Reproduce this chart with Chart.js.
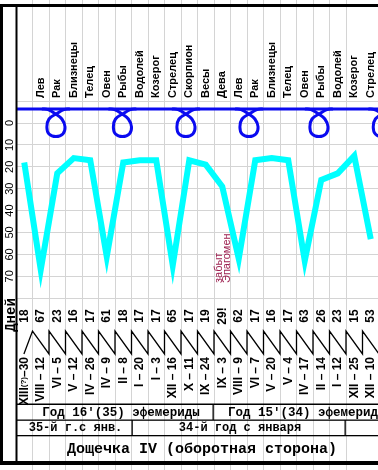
<!DOCTYPE html>
<html><head><meta charset="utf-8">
<script src="https://cdn.jsdelivr.net/npm/chart.js@4.4.0/dist/chart.umd.min.js"></script>
<style>
html,body{margin:0;padding:0;background:#fff;}
#wrap{width:378px;height:470px;position:relative;overflow:hidden;}
</style></head><body>
<div id="wrap"><canvas id="c" width="378" height="470"></canvas></div>
<script>
// ---- data ----
const signs = ["", "Лев","Рак","Близнецы","Телец","Овен","Рыбы","Водолей","Козерог","Стрелец","Скорпион","Весы","Дева","Лев","Рак","Близнецы","Телец","Овен","Рыбы","Водолей","Козерог","Стрелец"];
const days = [18,67,23,16,17,61,18,17,17,65,17,19,29,62,17,16,17,63,26,23,15,53];
const dayLabels = ["18","67","23","16","17","61","18","17","17","65","17","19","29!","62","17","16","17","63","26","23","15","53"];
const dates = ["XIII(?)–30","VIII – 12","VI – 5","V – 12","IV – 26","IV – 9","II – 8","I – 20","I – 3","XII – 16","X – 11","IX – 24","IX – 3","VIII – 9","VI – 7","V – 20","V – 4","IV – 17","II – 14","I – 12","XII – 25","XII – 10"];
const yTicks = [0,10,20,30,40,50,60,70];
// retrograde loops of the blue line (column units / day units)
const loopCenters = [2.42, 6.45, 10.3, 14.12, 18.36, 22.2];
const loopLevel = -6.4;
const loopShapeDx = [-0.85,-0.48,-0.06,0.36,0.55,0.42,0,-0.42,-0.55,-0.42,0.06,0.48,0.85];
const loopShapeDy = [0,0.3,2.05,4.57,8.2,11.4,12.6,11.4,8.2,4.57,2.05,0.3,0];
const rowYear1 = ["Год 16'(35) эфемериды","Год 15'(34) эфемериды"];
const rowYear2 = ["35-й г.с янв.","34-й год с января"];
const title = "Дощечка IV (оборотная сторона)";
const note = ["забыт","Эпагомен"];

// ---- geometry ----
const COLW = 16.5, X0 = 16, W = 378, H = 470, Y0PX = 123, PXU = 2.19;
const xMax = (W - X0) / COLW;

const cyanPts = days.map((d,i)=>({x:i+0.5, y:d}));
const baseLine = [{x:0, y:loopLevel},{x:xMax+1, y:loopLevel}];
const loopSets = loopCenters.map(c=>({
  data: loopShapeDx.map((dx,k)=>({x:c+dx, y:loopLevel+loopShapeDy[k]})),
  borderColor:'#0a0af0', borderWidth:3, pointRadius:0, tension:0.4, fill:false
}));

function vtext(ctx, str, cx, cy, align, font, color){
  ctx.save(); ctx.translate(cx, cy); ctx.rotate(-Math.PI/2);
  ctx.textAlign = align; ctx.textBaseline = 'middle';
  ctx.font = font; ctx.fillStyle = color; ctx.fillText(str, 0, 0); ctx.restore();
}

const deco = {
  id:'deco',
  afterDraw(chart){
    const ctx = chart.ctx, xs = chart.scales.x, ys = chart.scales.y;
    ctx.save();
    // sawtooth connector
    ctx.strokeStyle = '#000'; ctx.lineWidth = 1.3;
    const sTop = 331, sBot = 354;
    ctx.beginPath();
    ctx.moveTo(xs.getPixelForValue(0.48), sBot);
    ctx.lineTo(xs.getPixelForValue(1), sTop);
    for(let i=1;i<=22;i++){
      ctx.lineTo(xs.getPixelForValue(i+1), sBot);
      ctx.lineTo(xs.getPixelForValue(i+1), sTop);
    }
    ctx.stroke();

    // frame
    ctx.fillStyle = '#000';
    ctx.fillRect(0,4,W,3);
    ctx.fillRect(0,4,3,461);
    ctx.fillRect(15.5,4,2,461);
    ctx.fillRect(0,461,W,4);
    ctx.fillRect(16,403.5,W-16,1.5);
    ctx.fillRect(16,419.5,W-16,1.3);
    ctx.fillRect(16,435,W-16,1.3);
    ctx.fillRect(212.5,404,1.3,16);
    ctx.fillRect(131.5,420,1.3,16);
    ctx.fillRect(344.5,420,1.3,16);

    // sign labels
    signs.forEach((s,i)=>{ if(s) vtext(ctx, s, xs.getPixelForValue(i+0.5), 98, 'left', 'bold 11px "Liberation Sans", Arial, sans-serif', '#000'); });
    // y tick labels
    yTicks.forEach(v=> vtext(ctx, String(v), 10, ys.getPixelForValue(v), 'center', '11px "Liberation Sans", Arial, sans-serif', '#000'));
    // Дней
    vtext(ctx, 'Дней', 11, 315, 'center', 'bold 14px "Liberation Mono", monospace', '#000');
    // day numbers
    dayLabels.forEach((s,i)=> vtext(ctx, s, xs.getPixelForValue(i+0.5), 316, 'center', 'bold 12px "Liberation Sans", Arial, sans-serif', '#000'));
    // dates
    dates.forEach((s,i)=>{
      const cx = xs.getPixelForValue(i+0.5);
      const f = 'bold 12px "Liberation Sans", Arial, sans-serif';
      if(s.indexOf('(?)')>=0){
        const parts = s.split('(?)');
        ctx.save(); ctx.font = f; const w1 = ctx.measureText(parts[1]).width;
        ctx.font = 'bold 8px "Liberation Sans", Arial, sans-serif'; const w2 = ctx.measureText('(?)').width; ctx.restore();
        vtext(ctx, parts[1], cx, 357, 'right', f, '#000');
        vtext(ctx, '(?)', cx, 357+w1, 'right', 'bold 8px "Liberation Sans", Arial, sans-serif', '#000');
        vtext(ctx, parts[0], cx, 357+w1+w2, 'right', f, '#000');
      } else {
        vtext(ctx, s, cx, 357, 'right', f, '#000');
      }
    });
    // note
    vtext(ctx, note[0], 218.5, 283, 'left', '11px "Liberation Sans", Arial, sans-serif', '#9c1f4f');
    vtext(ctx, note[1], 226.5, 283, 'left', '11px "Liberation Sans", Arial, sans-serif', '#9c1f4f');

    // table rows
    ctx.fillStyle = '#000'; ctx.textBaseline = 'middle';
    ctx.font = 'bold 12.5px "Liberation Mono", monospace';
    ctx.textAlign = 'center'; ctx.fillText(rowYear1[0], 121, 412.5);
    ctx.textAlign = 'left'; ctx.fillText(rowYear1[1], 228, 412.5);
    ctx.font = 'bold 12px "Liberation Mono", monospace';
    ctx.textAlign = 'center'; ctx.fillText(rowYear2[0], 75.5, 428);
    ctx.fillText(rowYear2[1], 240, 428);
    ctx.font = 'bold 15px "Liberation Mono", monospace';
    ctx.fillText(title, 202, 449);
    ctx.restore();
  }
};

new Chart(document.getElementById('c'), {
  type:'line',
  data:{datasets:[
    {data:baseLine, borderColor:'#0a0af0', borderWidth:3, pointRadius:0, tension:0, fill:false},
    ...loopSets,
    {data:cyanPts, borderColor:'#00ffff', borderWidth:6, pointRadius:0, tension:0, fill:false, borderJoinStyle:'miter'}
  ]},
  options:{
    responsive:false, animation:false, devicePixelRatio:1,
    layout:{padding:{left:16,right:0,top:0,bottom:0}},
    plugins:{legend:{display:false}, tooltip:{enabled:false}},
    scales:{
      x:{type:'linear', min:0, max:xMax,
         ticks:{display:false, stepSize:1},
         grid:{drawTicks:false, lineWidth:1, color:c=>(Number.isInteger(c.tick.value)&&c.tick.value>0)?'#d4d4d4':'rgba(0,0,0,0)'},
         border:{display:false}, afterFit:s=>{s.height=0;}},
      y:{type:'linear', reverse:true, min:-Y0PX/PXU, max:(H-Y0PX)/PXU,
         ticks:{display:false, stepSize:10},
         grid:{drawTicks:false, lineWidth:1, color:c=>{const v=c.tick.value; return (Number.isInteger(v)&&v>=-10&&v<=80)?'#d4d4d4':'rgba(0,0,0,0)';}},
         border:{display:false}, afterFit:s=>{s.width=0;}}
    }
  },
  plugins:[deco]
});
</script>
</body></html>
